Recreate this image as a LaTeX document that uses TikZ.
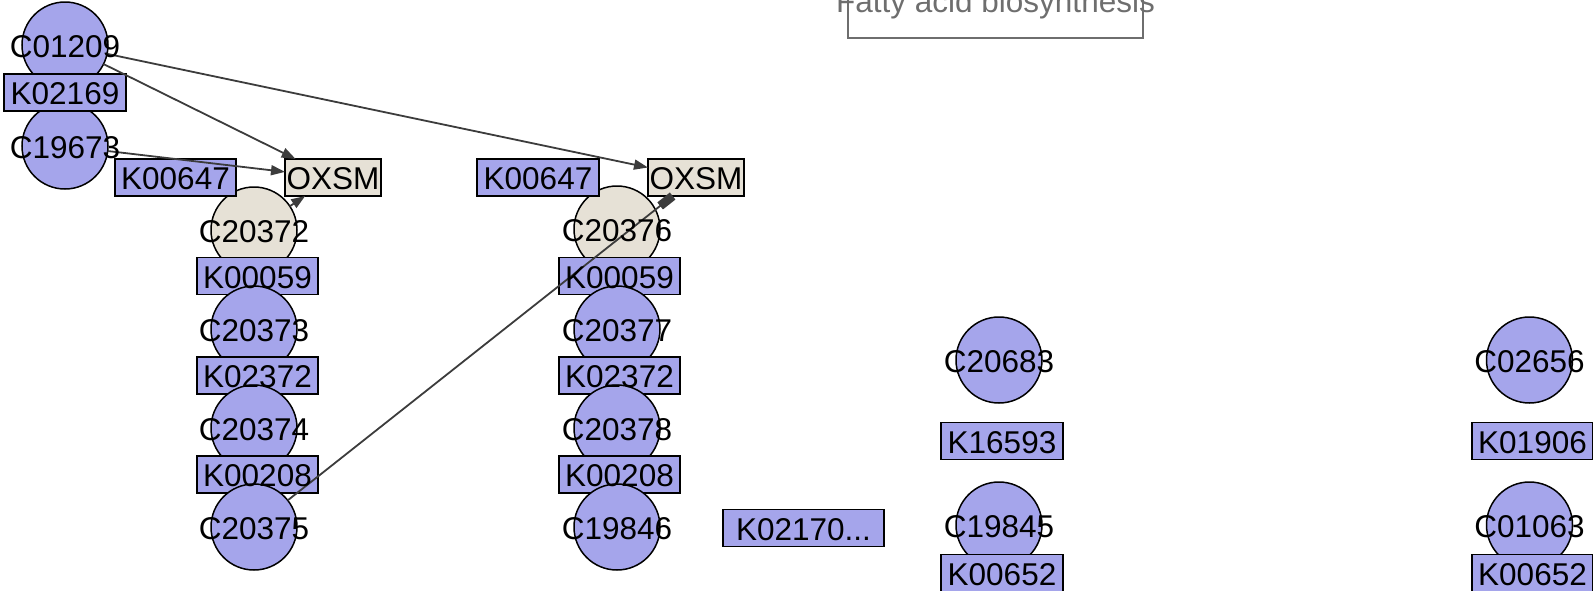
\documentclass[tikz,border=0pt]{standalone}
\usepackage{fontspec}
\setmainfont{Liberation Sans}
\usetikzlibrary{arrows.meta}
\definecolor{cblue}{RGB}{165,165,235}
\definecolor{cbeige}{RGB}{230,225,214}
\definecolor{edgec}{RGB}{60,60,60}
\definecolor{titlec}{RGB}{110,110,110}
\begin{document}
\begin{tikzpicture}[x=1pt,y=-1pt,
  cpd/.style={circle, draw=black, line width=1.5pt, fill=cblue, minimum size=86pt, inner sep=0pt, outer sep=0pt},
  cpdb/.style={cpd, fill=cbeige},
  ko/.style={rectangle, draw=black, line width=1.5pt, fill=cblue, minimum height=37pt, minimum width=121pt, inner sep=0pt, outer sep=0pt},
  kob/.style={ko, fill=cbeige, minimum width=96pt},
  lbl/.style={font=\fontsize{31.5}{31.5}\selectfont, inner sep=0pt, yshift=-1.5pt},
  rel/.style={draw=edgec, line width=1.8pt, -{Triangle[length=14pt,width=10pt]}},
  inh/.style={draw=edgec, line width=1.8pt, -{Rectangle[length=16pt,width=9pt]}}
]
\useasboundingbox (0,0) rectangle (1593,590);
\clip (0,0) rectangle (1593,590);
% title
\node[draw=titlec, line width=1.5pt, minimum width=295pt, minimum height=60pt, inner sep=0pt] (titlebox) at (995.5,8) {};
\node[font=\fontsize{31.5}{31.5}\selectfont, inner sep=0pt, text=titlec, anchor=base] (title) at (995.5,12) {Fatty acid biosynthesis};
% shapes, top-left group
\node[cpd] (C01209) at (65,45) {};
\node[cpd] (C19673) at (65,146) {};
\node[ko, minimum width=122pt] (K02169) at (65,92.5) {};
% left column
\node[cpdb] (C20372) at (254,230) {};
\node[ko] (K00647a) at (175.5,177.5) {};
\node[kob] (OXSMa) at (333,177.5) {};
\node[ko] (K00059a) at (257.5,276) {};
\node[cpd] (C20373) at (254,329) {};
\node[ko] (K02372a) at (257.5,375.5) {};
\node[cpd] (C20374) at (254,428) {};
\node[ko] (K00208a) at (257.5,474.5) {};
\node[cpd] (C20375) at (254,527) {};
% right column
\node[cpdb] (C20376) at (617,229) {};
\node[ko, minimum width=122pt] (K00647b) at (538,177.5) {};
\node[kob] (OXSMb) at (696,177.5) {};
\node[ko] (K00059b) at (619.5,276) {};
\node[cpd] (C20377) at (617,329) {};
\node[ko] (K02372b) at (619.5,375.5) {};
\node[cpd] (C20378) at (617,428) {};
\node[ko] (K00208b) at (619.5,474.5) {};
\node[cpd] (C19846) at (617,527) {};
% others
\node[ko, minimum width=161pt] (K02170) at (803.5,528) {};
\node[cpd] (C20683) at (999,360) {};
\node[ko, minimum width=122pt] (K16593) at (1002,441) {};
\node[cpd] (C19845) at (999,525) {};
\node[ko, minimum width=122pt] (K00652a) at (1002,573) {};
\node[cpd] (C02656) at (1529.5,360) {};
\node[ko] (K01906) at (1532.5,441) {};
\node[cpd] (C01063) at (1529.5,525) {};
\node[ko] (K00652b) at (1532.5,573) {};
% edges
\draw[rel] (C01209) -- (OXSMb);
\draw[rel] (C01209) -- (OXSMa);
\draw[rel] (C19673) -- (OXSMa);
\draw[rel] (C20372) -- (OXSMa);
\draw[inh] (C20375) -- (OXSMb);
% labels
\node[lbl] (lC01209) at (C01209) {C01209};
\node[lbl] (lC19673) at (C19673) {C19673};
\node[lbl] (lK02169) at (K02169) {K02169};
\node[lbl] (lC20372) at (C20372) {C20372};
\node[lbl] (lK00647a) at (K00647a) {K00647};
\node[lbl] (lOXSMa) at (OXSMa) {OXSM};
\node[lbl] (lK00059a) at (K00059a) {K00059};
\node[lbl] (lC20373) at (C20373) {C20373};
\node[lbl] (lK02372a) at (K02372a) {K02372};
\node[lbl] (lC20374) at (C20374) {C20374};
\node[lbl] (lK00208a) at (K00208a) {K00208};
\node[lbl] (lC20375) at (C20375) {C20375};
\node[lbl] (lC20376) at (C20376) {C20376};
\node[lbl] (lK00647b) at (K00647b) {K00647};
\node[lbl] (lOXSMb) at (OXSMb) {OXSM};
\node[lbl] (lK00059b) at (K00059b) {K00059};
\node[lbl] (lC20377) at (C20377) {C20377};
\node[lbl] (lK02372b) at (K02372b) {K02372};
\node[lbl] (lC20378) at (C20378) {C20378};
\node[lbl] (lK00208b) at (K00208b) {K00208};
\node[lbl] (lC19846) at (C19846) {C19846};
\node[lbl] (lK02170) at (K02170) {K02170...};
\node[lbl] (lC20683) at (C20683) {C20683};
\node[lbl] (lK16593) at (K16593) {K16593};
\node[lbl] (lC19845) at (C19845) {C19845};
\node[lbl] (lK00652a) at (K00652a) {K00652};
\node[lbl] (lC02656) at (C02656) {C02656};
\node[lbl] (lK01906) at (K01906) {K01906};
\node[lbl] (lC01063) at (C01063) {C01063};
\node[lbl] (lK00652b) at (K00652b) {K00652};
\end{tikzpicture}
\end{document}
